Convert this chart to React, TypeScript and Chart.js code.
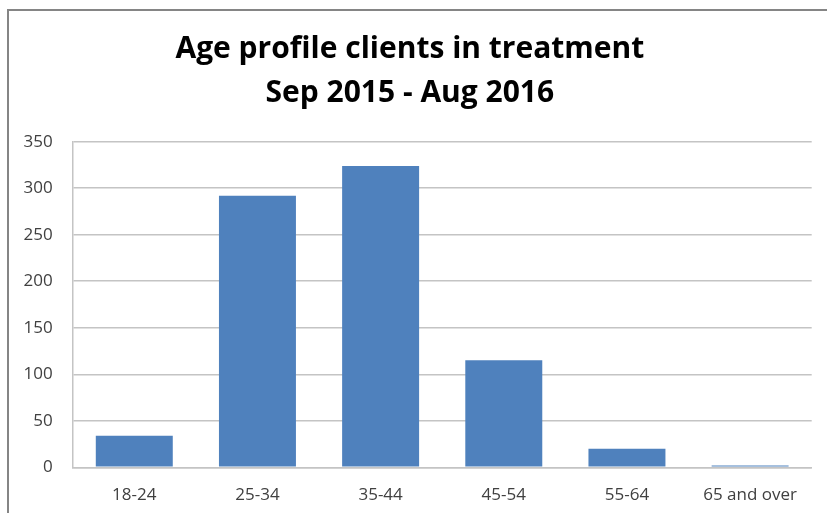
import React, { useEffect, useRef } from "react";
import { Chart, registerables } from "chart.js";

Chart.register(...registerables);

const categories = ["18-24", "25-34", "35-44", "45-54", "55-64", "65 and over"];
const clients = [34, 292, 324, 115, 20, 2];
const titleLines = ["Age profile clients in treatment", "Sep 2015 - Aug 2016"];
const yMin = 0;
const yMax = 350;
const yStep = 50;

const FONT = "'Open Sans', 'Liberation Sans', sans-serif";

export default function App() {
  const canvasRef = useRef<HTMLCanvasElement | null>(null);

  useEffect(() => {
    const canvas = canvasRef.current;
    if (!canvas) return;
    const chart = new Chart(canvas, {
      type: "bar",
      data: {
        labels: categories,
        datasets: [
          {
            label: "Clients",
            data: clients,
            backgroundColor: "#4F81BD",
            borderWidth: 0,
            categoryPercentage: 1,
            barPercentage: 0.625,
          },
        ],
      },
      options: {
        responsive: false,
        animation: false,
        layout: { padding: { left: 0, right: 15.3, top: 0, bottom: 0 } },
        plugins: {
          legend: { display: false },
          tooltip: { enabled: false },
          title: {
            display: true,
            text: titleLines,
            color: "#000000",
            font: { family: FONT, size: 30, weight: "bold", lineHeight: 44 / 30 },
            padding: { top: 17, bottom: 26.7 },
          },
        },
        scales: {
          x: {
            grid: { display: false, drawTicks: false },
            border: { display: true, color: "#c4c4c4", width: 1.5 },
            ticks: {
              color: "#404040",
              font: { family: FONT, size: 17 },
              padding: 18,
              maxRotation: 0,
              autoSkip: false,
            },
            afterFit: (scale: any) => {
              scale.height = 45.7;
            },
          },
          y: {
            min: yMin,
            max: yMax,
            grid: { color: "#c4c4c4", lineWidth: 1.5, drawTicks: false },
            border: { display: true, color: "#c4c4c4", width: 1.5 },
            ticks: {
              stepSize: yStep,
              color: "#404040",
              font: { family: FONT, size: 17 },
              padding: 20,
            },
            afterFit: (scale: any) => {
              scale.width = 64.7;
            },
          },
        },
      },
    });
    return () => chart.destroy();
  }, []);

  return (
    <div
      style={{
        position: "fixed",
        left: 0,
        top: 0,
        width: 827,
        height: 513,
        overflow: "hidden",
        background: "#ffffff",
      }}
    >
      <div
        style={{
          position: "absolute",
          left: 7,
          top: 9,
          width: 900,
          height: 600,
          borderTop: "2px solid #858585",
          borderLeft: "2px solid #858585",
        }}
      />
      <canvas
        ref={canvasRef}
        width={819}
        height={503}
        style={{ position: "absolute", left: 8, top: 10, width: 819, height: 503 }}
      />
    </div>
  );
}
